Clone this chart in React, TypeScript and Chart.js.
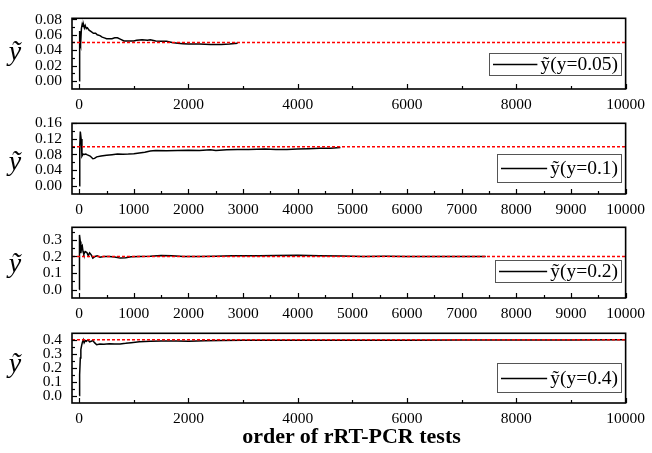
import React, { useEffect, useRef } from "react";
import { Chart, registerables } from "chart.js";
Chart.register(...registerables);

const FONT = "'Liberation Serif', 'Times New Roman', serif";

// ---------------- data ----------------
const p1X = [0, 8, 15, 25, 40, 55, 70, 80, 95, 110, 130, 150, 180, 220, 260, 300, 330, 380, 420, 460, 500, 600, 650, 700, 760, 820, 900, 1000, 1050, 1150, 1250, 1300, 1400, 1500, 1600, 1700, 1800, 1900, 2000, 2200, 2400, 2600, 2750, 2900];
const p1Y = [0, 0.065, 0.05, 0.047, 0.068, 0.074, 0.071, 0.073, 0.069, 0.072, 0.068, 0.069, 0.066, 0.064, 0.062, 0.062, 0.06, 0.059, 0.057, 0.056, 0.055, 0.055, 0.056, 0.056, 0.054, 0.052, 0.052, 0.052, 0.053, 0.0535, 0.053, 0.0535, 0.052, 0.0515, 0.0515, 0.05, 0.049, 0.0485, 0.048, 0.048, 0.0475, 0.0475, 0.048, 0.049];

const p2X = [0, 10, 20, 35, 50, 70, 90, 120, 150, 200, 250, 280, 320, 400, 500, 600, 700, 800, 900, 1000, 1100, 1200, 1300, 1400, 1600, 1800, 2000, 2200, 2400, 2500, 2700, 2900, 3100, 3400, 3600, 3800, 4000, 4200, 4400, 4600, 4780];
const p2Y = [0, 0.1, 0.139, 0.12, 0.076, 0.081, 0.08, 0.081, 0.079, 0.076, 0.069, 0.07, 0.074, 0.076, 0.078, 0.0795, 0.081, 0.0805, 0.081, 0.082, 0.084, 0.086, 0.089, 0.09, 0.0895, 0.09, 0.091, 0.0905, 0.092, 0.09, 0.092, 0.093, 0.093, 0.094, 0.093, 0.093, 0.094, 0.095, 0.096, 0.096, 0.098];

const p3X = [0, 5, 20, 30, 45, 55, 70, 85, 110, 140, 165, 190, 220, 250, 290, 330, 380, 450, 550, 650, 750, 850, 950, 1100, 1300, 1500, 1700, 1900, 2200, 2500, 2800, 3000, 3300, 3600, 4000, 4400, 4800, 5200, 5600, 6000, 6500, 7000, 7440];
const p3Y = [0, 0.33, 0.29, 0.22, 0.26, 0.265, 0.23, 0.213, 0.23, 0.224, 0.205, 0.222, 0.21, 0.19, 0.2, 0.204, 0.196, 0.2, 0.2, 0.197, 0.19, 0.192, 0.198, 0.2, 0.201, 0.206, 0.205, 0.2, 0.2, 0.201, 0.204, 0.205, 0.204, 0.206, 0.207, 0.205, 0.203, 0.2, 0.201, 0.2, 0.2, 0.2, 0.2];

const p4X = [0, 5, 10, 20, 30, 45, 60, 75, 90, 110, 130, 160, 190, 220, 250, 280, 320, 380, 450, 550, 650, 750, 850, 950, 1100, 1300, 1500, 1800, 2000, 2300, 2600, 3000, 3500, 4000, 5000, 6000, 7000, 8000, 9000, 10000];
const p4Y = [0, 0.05, 0.15, 0.27, 0.33, 0.36, 0.385, 0.4, 0.38, 0.395, 0.39, 0.4, 0.385, 0.39, 0.395, 0.38, 0.365, 0.37, 0.368, 0.372, 0.37, 0.371, 0.375, 0.38, 0.386, 0.39, 0.392, 0.392, 0.39, 0.393, 0.395, 0.397, 0.398, 0.397, 0.398, 0.398, 0.399, 0.399, 0.399, 0.4];

const targets = [0.05, 0.1, 0.2, 0.4];
const legendLabels = ["ỹ(y=0.05)", "ỹ(y=0.1)", "ỹ(y=0.2)", "ỹ(y=0.4)"];
const yAxisLabel = "ỹ";
const xAxisTitle = "order of rRT-PCR tests";

const xTicks2000 = [0, 2000, 4000, 6000, 8000, 10000];
const xMinor2000 = [1000, 3000, 5000, 7000, 9000];
const xTicks1000 = [0, 1000, 2000, 3000, 4000, 5000, 6000, 7000, 8000, 9000, 10000];
const xMinor1000 = [500, 1500, 2500, 3500, 4500, 5500, 6500, 7500, 8500, 9500];

const p1YTicks = [0, 0.02, 0.04, 0.06, 0.08];
const p1YMinor = [0.01, 0.03, 0.05, 0.07];
const p2YTicks = [0, 0.04, 0.08, 0.12, 0.16];
const p2YMinor = [0.02, 0.06, 0.1, 0.14];
const p3YTicks = [0, 0.1, 0.2, 0.3];
const p3YMinor = [0.05, 0.15, 0.25, 0.35];
const p4YTicks = [0, 0.1, 0.2, 0.3, 0.4];
const p4YMinor = [0.05, 0.15, 0.25, 0.35];

const xRange = [-132, 10000];
const yRanges = [
  [-0.0106, 0.0815],
  [-0.0213, 0.16],
  [-0.0507, 0.376],
  [-0.053, 0.447],
];
const yDecimals = [2, 2, 1, 1];

// ---------------- layout ----------------
const W = 652;
const PAD_TOP = 12;
const X_AXIS_H = 30;
const Y_AXIS_W = 72;
const PAD_RIGHT = 21;

const panels = [
  { xs: p1X, ys: p1Y, xt: xTicks2000, xm: xMinor2000, yt: p1YTicks, ym: p1YMinor, top: 11, bottom: 89, labelY: 60, legend: { l: 489, t: 53, r: 621, b: 75 } },
  { xs: p2X, ys: p2Y, xt: xTicks1000, xm: xMinor1000, yt: p2YTicks, ym: p2YMinor, top: 116, bottom: 194, labelY: 170, legend: { l: 497, t: 154, r: 621, b: 182 } },
  { xs: p3X, ys: p3Y, xt: xTicks1000, xm: xMinor1000, yt: p3YTicks, ym: p3YMinor, top: 220, bottom: 298, labelY: 272, legend: { l: 495, t: 260, r: 621, b: 282 } },
  { xs: p4X, ys: p4Y, xt: xTicks2000, xm: xMinor2000, yt: p4YTicks, ym: p4YMinor, top: 326, bottom: 403, labelY: 372, legend: { l: 497, t: 363, r: 621, b: 392 } },
];

function Panel({ idx }: { idx: number }) {
  const ref = useRef<HTMLCanvasElement | null>(null);
  const p = panels[idx];
  const canvasTop = p.top - PAD_TOP;
  const canvasH = PAD_TOP + (p.bottom - p.top) + X_AXIS_H;

  useEffect(() => {
    if (!ref.current) return;
    const deco = {
      id: "deco" + idx,
      afterDraw(chart: any) {
        const ctx = chart.ctx;
        const a = chart.chartArea;
        const xs = chart.scales.x;
        const ysc = chart.scales.y;
        ctx.save();
        // inside tick marks
        ctx.strokeStyle = "#000";
        ctx.lineWidth = 1.2;
        const drawX = (v: number, len: number) => {
          const px = Math.round(xs.getPixelForValue(v)) + 0.5;
          ctx.beginPath();
          ctx.moveTo(px, a.bottom);
          ctx.lineTo(px, a.bottom - len);
          ctx.stroke();
        };
        const drawY = (v: number, len: number) => {
          const py = Math.round(ysc.getPixelForValue(v)) + 0.5;
          ctx.beginPath();
          ctx.moveTo(a.left, py);
          ctx.lineTo(a.left + len, py);
          ctx.stroke();
        };
        p.xt.forEach((v) => drawX(v, 5));
        p.xm.forEach((v) => drawX(v, 3));
        p.yt.forEach((v) => drawY(v, 5));
        p.ym.forEach((v) => drawY(v, 3));
        // frame
        ctx.lineWidth = 1.6;
        ctx.strokeRect(a.left, a.top, a.right - a.left, a.bottom - a.top);
        // y label
        ctx.fillStyle = "#000";
        ctx.font = `italic 28px ${FONT}`;
        ctx.textAlign = "center";
        ctx.textBaseline = "alphabetic";
        ctx.fillText(yAxisLabel, 15, p.labelY - canvasTop);
        // legend
        const L = p.legend;
        const lt = L.t - canvasTop;
        const lb = L.b - canvasTop;
        ctx.strokeStyle = "#555";
        ctx.lineWidth = 1;
        ctx.strokeRect(L.l + 0.5, lt + 0.5, L.r - L.l, lb - lt);
        ctx.font = `19.5px ${FONT}`;
        const label = legendLabels[idx];
        const tw = ctx.measureText(label).width;
        const cy = (lt + lb) / 2;
        ctx.textAlign = "left";
        ctx.textBaseline = "middle";
        const tx = L.r - 3 - tw;
        ctx.fillText(label, tx, cy + 1);
        ctx.strokeStyle = "#000";
        ctx.lineWidth = 1.5;
        ctx.beginPath();
        ctx.moveTo(L.l + 4, Math.round(cy) + 0.5);
        ctx.lineTo(tx - 3, Math.round(cy) + 0.5);
        ctx.stroke();
        ctx.restore();
      },
    };

    const chart = new Chart(ref.current, {
      type: "line",
      data: {
        datasets: [
          {
            label: "target",
            data: [
              { x: xRange[0], y: targets[idx] },
              { x: xRange[1], y: targets[idx] },
            ],
            borderColor: "#ff0000",
            borderWidth: 1.5,
            borderDash: [3, 2],
            pointRadius: 0,
          },
          {
            label: legendLabels[idx],
            data: p.xs.map((x, i) => ({ x, y: p.ys[i] })),
            borderColor: "#000",
            borderWidth: 1.5,
            pointRadius: 0,
            tension: 0,
          },
        ],
      },
      options: {
        responsive: false,
        maintainAspectRatio: false,
        animation: false,
        events: [],
        layout: { padding: { top: PAD_TOP, right: PAD_RIGHT, left: 0, bottom: 0 } },
        plugins: { legend: { display: false }, tooltip: { enabled: false } },
        scales: {
          x: {
            type: "linear",
            min: xRange[0],
            max: xRange[1],
            afterBuildTicks: (s: any) => {
              s.ticks = p.xt.map((v) => ({ value: v }));
            },
            afterFit: (s: any) => {
              s.height = X_AXIS_H;
            },
            grid: { display: false, drawTicks: false },
            border: { display: false },
            ticks: {
              autoSkip: false,
              maxRotation: 0,
              padding: 7,
              color: "#000",
              font: { family: FONT, size: 15.5 },
              callback: (v: any) => String(v),
            },
          },
          y: {
            type: "linear",
            min: yRanges[idx][0],
            max: yRanges[idx][1],
            afterBuildTicks: (s: any) => {
              s.ticks = p.yt.map((v) => ({ value: v }));
            },
            afterFit: (s: any) => {
              s.width = Y_AXIS_W;
            },
            grid: { display: false, drawTicks: false },
            border: { display: false },
            ticks: {
              autoSkip: false,
              padding: 10,
              color: "#000",
              font: { family: FONT, size: 15.5 },
              callback: (v: any) => Number(v).toFixed(yDecimals[idx]),
            },
          },
        },
      },
      plugins: [deco],
    } as any);
    return () => chart.destroy();
  }, [idx]);

  return (
    <canvas
      ref={ref}
      width={W}
      height={canvasH}
      style={{ position: "absolute", left: 0, top: canvasTop, width: W, height: canvasH }}
    />
  );
}

export default function App() {
  return (
    <div style={{ position: "absolute", left: 0, top: 0, width: W, height: 453, background: "#fff" }}>
      {panels.map((_, i) => (
        <Panel key={i} idx={i} />
      ))}
      <div
        style={{
          position: "absolute",
          left: Y_AXIS_W,
          width: W - Y_AXIS_W - PAD_RIGHT,
          top: 424,
          lineHeight: "24px",
          textAlign: "center",
          fontFamily: FONT,
          fontWeight: "bold",
          fontSize: 22,
          color: "#000",
        }}
      >
        {xAxisTitle}
      </div>
    </div>
  );
}
